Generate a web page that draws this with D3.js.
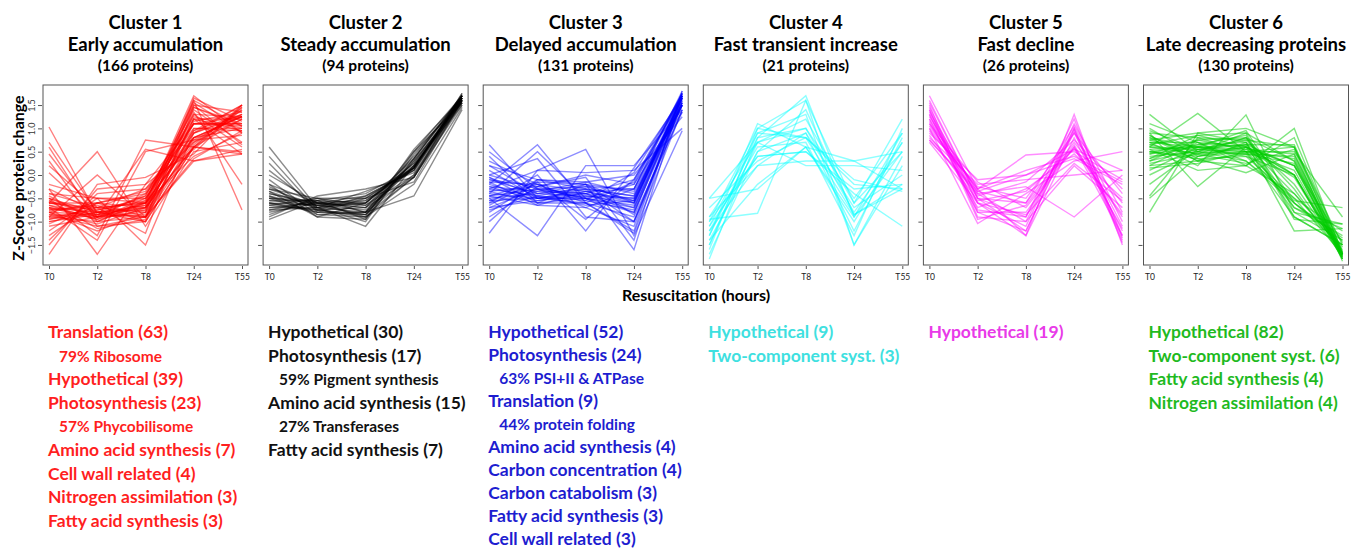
<!DOCTYPE html>
<html>
<head>
<meta charset="utf-8">
<script src="https://cdn.jsdelivr.net/npm/d3@7"></script>
<style>
  body { margin: 0; background: #fff; }
  svg { display: block; }
  text { font-family: Lato, "Open Sans", sans-serif; }
</style>
</head>
<body>
<div id="chart"></div>
<script>
// time points on the x axis
var timeLabels = ['T0', 'T2', 'T8', 'T24', 'T55'];
var yTicks = [-1.5, -1.0, -0.5, 0.0, 0.5, 1.0, 1.5];

var clusterNames = ['Cluster 1', 'Cluster 2', 'Cluster 3', 'Cluster 4', 'Cluster 5', 'Cluster 6'];
var clusterTitles = ['Early accumulation', 'Steady accumulation', 'Delayed accumulation',
  'Fast transient increase', 'Fast decline', 'Late decreasing proteins'];
var clusterCounts = [166, 94, 131, 21, 26, 130];

// z-score profiles (T0, T2, T8, T24, T55)
var cluster1 = [
  [1.03, -0.85, -0.9, 0.3, 0.45], [0.7, -0.8, -1.0, 0.6, 0.5], [0.6, -1.0, -0.9, 0.35, 0.95],
  [0.45, -0.9, -0.7, 1.35, -0.2], [0.3, -1.1, -1.0, 0.6, 1.2], [0.2, -0.7, -0.6, 1.6, -0.75],
  [0.05, -0.9, -0.8, 1.2, 0.45], [-0.2, -0.5, -0.6, 0.4, 0.9], [-0.3, -0.8, -0.9, 1.0, 1.0],
  [-0.4, -0.7, -0.8, 0.7, 1.2], [-0.5, -0.8, -0.7, 0.6, 1.4], [-0.55, -0.9, -0.6, 0.8, 1.25],
  [-0.6, -0.75, -0.55, 1.3, 0.6], [-0.65, -0.85, -0.7, 0.9, 1.3], [-0.7, -0.8, -0.65, 1.5, 0.65],
  [-0.7, -0.95, -0.5, 1.1, 1.05], [-0.75, -0.7, -0.6, 0.75, 1.3], [-0.8, -0.85, -0.45, 1.4, 0.7],
  [-0.8, -0.6, -0.7, 0.6, 1.5], [-0.85, -0.9, -0.4, 1.2, 0.95], [-0.9, -0.75, -0.5, 0.9, 1.25],
  [-0.9, -1.0, -0.55, 1.55, 0.9], [-0.95, -0.7, -0.3, 1.0, 0.95], [-1.0, -0.8, -0.45, 1.25, 1.0],
  [-1.05, -0.6, -0.4, 0.8, 1.25], [-1.1, -0.9, -0.6, 1.7, 0.9], [-1.2, -0.5, -0.5, 1.1, 1.1],
  [-1.3, -0.6, -0.35, 0.95, 1.3], [-1.4, -0.4, -0.3, 0.7, 1.4], [-1.5, -0.3, -0.2, 0.55, 1.45],
  [-1.7, -0.2, -0.05, 0.45, 1.5], [-0.6, 0.5, -1.1, 0.5, 0.7], [-0.9, 0.0, -0.9, 0.8, 1.0],
  [-0.3, -1.7, -0.2, 1.1, 1.1], [-0.5, -1.3, 0.75, 0.6, 0.45], [-0.7, -1.4, 0.5, 0.75, 0.85],
  [-0.5, -0.9, 0.55, 0.3, 0.55], [-0.4, -0.5, -1.5, 0.9, 1.5], [-0.6, -0.7, -1.25, 1.45, 1.1],
  [-0.8, -1.2, -0.8, 1.65, 1.15], [-0.75, -0.65, -1.0, 1.2, 1.2], [-0.85, -1.1, -0.9, 1.5, 1.35],
  [-0.65, -0.95, -0.75, 1.1, 1.25], [-0.7, -0.9, -0.85, 0.95, 1.5], [-0.8, -1.05, -0.7, 1.3, 1.25],
  [-0.55, -1.15, -0.95, 1.6, 1.05], [-1.0, -0.85, -0.65, 1.45, 1.05], [-0.45, -1.0, -0.6, 0.8, 1.25],
  [-0.95, -0.8, -0.75, 1.15, 1.35], [-0.6, -0.6, -0.9, 0.65, 1.45]
];
var cluster2 = [
  [0.6, -0.7, -0.8, -0.45, 1.4], [0.4, -0.75, -0.9, -0.2, 1.45], [0.25, -0.8, -0.85, -0.05, 1.5],
  [0.1, -0.7, -1.1, 0.2, 1.5], [0.0, -0.6, -0.9, -0.05, 1.55], [-0.1, -0.85, -0.8, 0.2, 1.55],
  [-0.2, -0.6, -0.7, -0.05, 1.6], [-0.25, -0.75, -0.85, 0.3, 1.55], [-0.3, -0.5, -0.8, 0.0, 1.6],
  [-0.35, -0.9, -0.6, 0.25, 1.6], [-0.4, -0.65, -0.75, 0.15, 1.65], [-0.45, -0.7, -0.55, 0.1, 1.6],
  [-0.5, -0.6, -0.7, 0.2, 1.6], [-0.5, -0.8, -0.5, 0.15, 1.65], [-0.55, -0.55, -0.8, 0.3, 1.6],
  [-0.6, -0.65, -0.6, 0.2, 1.65], [-0.6, -0.75, -0.45, 0.1, 1.7], [-0.65, -0.5, -0.65, 0.15, 1.65],
  [-0.7, -0.6, -0.55, 0.15, 1.7], [-0.7, -0.7, -0.35, 0.05, 1.7], [-0.75, -0.55, -0.6, 0.25, 1.65],
  [-0.8, -0.6, -0.45, 0.1, 1.75], [-0.85, -0.5, -0.5, 0.15, 1.7], [-0.9, -0.45, -0.3, -0.05, 1.7],
  [-0.95, -0.55, -0.4, 0.15, 1.75], [-0.45, -0.85, -0.9, 0.55, 1.65], [-0.35, -0.7, -1.0, 0.45, 1.6],
  [-0.65, -0.75, -0.7, 0.4, 1.7], [-0.55, -0.65, -0.85, 0.35, 1.7], [-0.75, -0.7, -0.6, 0.35, 1.7],
  [-0.2, -0.9, -0.95, 0.5, 1.55], [-0.5, -0.55, -0.95, 0.35, 1.65], [-0.4, -0.6, -0.65, 0.0, 1.65],
  [-0.6, -0.8, -0.8, 0.5, 1.7], [-0.3, -0.65, -0.5, -0.15, 1.6]
];
var cluster3 = [
  [0.65, -0.5, -0.6, -0.9, 1.35], [0.5, -0.3, -0.7, -1.1, 1.6], [0.4, -0.6, -0.5, -0.8, 1.5],
  [0.3, -0.2, -0.6, -1.2, 1.7], [0.2, -0.4, -0.3, -1.0, 1.5], [0.1, -0.5, -0.4, -0.8, 1.6],
  [0.0, -0.3, -0.5, -0.7, 1.5], [-0.05, -0.6, -0.2, -0.85, 1.7], [-0.1, -0.4, -0.45, -0.6, 1.55],
  [-0.15, -0.2, -0.55, -0.75, 1.65], [-0.2, -0.5, -0.35, -0.6, 1.65], [-0.25, -0.35, -0.4, -0.7, 1.7],
  [-0.3, -0.45, -0.25, -0.55, 1.55], [-0.35, -0.25, -0.5, -0.65, 1.75], [-0.4, -0.5, -0.3, -0.45, 1.65],
  [-0.45, -0.3, -0.4, -0.5, 1.65], [-0.5, -0.4, -0.2, -0.6, 1.7], [-0.55, -0.2, -0.35, -0.55, 1.65],
  [-0.6, -0.35, -0.15, -0.4, 1.5], [-0.65, -0.1, -0.3, -0.45, 1.5], [-0.7, -0.3, -0.25, -0.3, 1.55],
  [-0.8, -0.15, -0.2, -0.35, 1.5], [-0.9, -0.25, 0.0, -0.2, 1.35], [-1.0, -0.1, -0.15, 0.0, 1.25],
  [-1.25, 0.1, 0.05, 0.1, 1.0], [-0.2, 0.65, -0.6, -1.25, 1.4], [-0.4, 0.5, -0.5, -1.0, 1.4],
  [0.0, 0.35, -0.9, -1.0, 1.55], [-0.5, -1.3, 0.2, 0.2, 1.4], [-0.3, 0.1, 0.55, -1.3, 0.95],
  [-0.6, 0.0, -1.2, 0.15, 1.65], [-0.45, -0.15, -0.95, -0.1, 1.65], [-0.15, -0.65, -0.7, -0.3, 1.8],
  [-0.35, -0.6, -0.6, -0.15, 1.7], [0.2, -0.1, -0.2, -1.6, 1.7], [-0.1, -0.25, -0.05, -1.4, 1.8],
  [-0.55, -0.5, -0.5, -0.2, 1.75], [-0.25, -0.55, -0.45, -0.5, 1.75], [-0.7, -0.55, -0.4, -0.1, 1.75],
  [-0.45, -0.65, -0.35, -0.3, 1.75], [-0.05, -0.45, -0.65, -0.55, 1.7], [-0.75, -0.45, -0.55, 0.05, 1.7]
];
var cluster4 = [
  [-1.8, 0.8, 1.7, -0.9, 0.9], [-1.6, 1.0, 1.6, -0.6, 1.2], [-1.5, 0.9, 1.3, -1.5, 0.4],
  [-1.5, 0.7, 1.0, -0.8, 0.7], [-1.4, 0.5, 0.9, -1.2, 0.8], [-1.3, 1.1, 0.6, -0.9, 0.5],
  [-1.3, 0.8, 1.0, -0.5, 0.9], [-1.2, 0.6, 0.7, -1.3, 1.0], [-1.1, 0.4, 0.5, -0.3, -0.2],
  [-1.0, 1.0, 0.8, -0.2, -0.3], [-0.95, -0.82, 1.6, -1.5, 0.2], [-0.9, 0.2, 0.9, -0.7, 0.0],
  [-1.0, 0.4, 0.5, -0.4, -1.1], [-0.5, -0.3, 0.6, 0.3, -0.3], [-0.5, 0.7, 1.2, -0.6, 0.5],
  [-0.9, 0.7, 0.2, 0.2, 0.1], [-1.2, 0.2, 0.3, 0.3, 0.5], [-1.7, 0.5, 1.4, -0.85, -0.2],
  [-1.4, -0.2, 0.6, -1.0, 0.7], [-0.7, 0.3, 0.8, -0.1, -0.35], [-1.1, 0.9, 0.8, -0.85, -0.3]
];
var cluster5 = [
  [1.7, -0.3, -1.3, 1.3, -1.5], [1.6, -0.5, -1.2, 1.0, -1.3], [1.4, -0.75, -0.9, 0.9, -1.1],
  [1.35, -0.4, -1.0, 1.0, -1.4], [1.3, -0.6, -1.3, 0.8, -1.2], [1.2, -0.8, -0.8, 0.6, -0.9],
  [1.15, -0.7, -0.3, 0.45, -0.5], [1.1, -0.5, -0.6, 1.05, -1.0], [1.0, -1.04, -0.4, 0.3, 0.5],
  [1.0, -0.3, 0.43, 0.5, -0.1], [0.9, -0.1, 0.0, 0.35, -0.2], [0.8, -0.2, -0.1, 0.0, 0.1],
  [0.75, -0.4, -0.25, -0.9, 0.0], [1.45, -0.6, -1.1, 1.1, -0.8], [1.25, -0.35, -0.6, 0.7, -0.6],
  [0.95, -0.25, -0.5, 0.9, -0.4], [1.5, -0.9, -1.0, 0.2, -0.7], [1.1, -0.15, -0.7, 0.6, -1.3],
  [0.85, -0.55, -0.35, 0.55, -0.85], [1.3, -0.8, -1.2, 0.95, -1.45], [1.2, -0.45, -0.15, 0.75, -0.3],
  [0.7, -0.6, -0.85, 0.25, -0.55], [1.05, -0.3, 0.1, 0.4, -0.15], [1.4, -0.95, -0.65, 0.65, -1.15],
  [0.75, -0.35, 0.0, 0.55, 0.1], [1.55, -0.5, -0.9, 1.2, -1.35]
];
var cluster6 = [
  [1.3, 0.5, 0.3, -0.6, -1.5], [1.1, 0.7, 0.2, -0.4, -1.6], [1.0, 0.4, 0.6, -0.7, -1.3],
  [0.9, 0.8, 0.5, -0.5, -1.7], [0.85, 0.3, 0.7, -0.8, -1.05], [0.8, 0.6, 0.4, 0.0, -1.8],
  [0.75, 0.5, 0.8, -0.3, -1.75], [0.7, 0.7, 0.3, -0.5, -1.2], [0.65, 0.45, 0.6, 0.0, -1.7],
  [0.6, 0.55, 0.75, -0.2, -1.7], [0.55, 0.6, 0.5, 0.1, -1.75], [0.5, 0.4, 0.65, 0.2, -1.75],
  [0.45, 0.75, 0.55, -0.05, -1.7], [0.4, 0.5, 0.45, 0.4, -1.75], [0.35, 0.65, 0.7, 0.0, -1.7],
  [0.3, 0.55, 0.5, 0.35, -1.7], [0.25, 0.45, 0.8, 0.3, -1.8], [0.2, 0.7, 0.6, 0.2, -1.7],
  [0.1, 0.6, 0.55, 0.45, -1.7], [0.0, 0.5, 0.9, 0.3, -1.7], [-0.2, 0.55, 0.65, 0.65, -1.65],
  [-0.45, 0.8, 0.75, 0.6, -1.7], [-0.8, 0.9, 1.0, 0.6, -1.7], [0.6, 1.32, 0.5, -0.9, -1.5],
  [0.7, 0.2, 1.29, -0.8, -1.4], [0.9, -0.25, 0.6, 0.2, -1.45], [0.55, 0.1, 0.2, 0.8, -1.65],
  [0.2, 0.3, 0.2, 1.0, -1.7], [0.85, 0.35, 0.05, 0.45, -1.7], [0.65, 0.85, 0.9, -0.9, -1.5],
  [0.5, 0.65, 0.85, -0.95, -1.05], [0.75, 0.9, 0.7, -1.2, -1.15], [0.45, 0.6, 0.95, -0.6, -1.4],
  [0.3, 0.75, 0.8, -0.7, -1.15], [0.95, 0.55, 0.45, -0.6, -1.35], [0.5, 0.35, 0.4, -0.55, -0.7],
  [0.6, 0.45, 0.25, 0.55, -1.85], [0.35, 0.85, 0.6, 0.0, -1.8], [0.8, 0.3, 0.45, 0.25, -1.8],
  [0.7, 0.6, 0.65, -0.4, -1.55], [-0.5, 0.4, 0.5, 0.5, -0.9], [0.15, 0.25, 0.5, 0.6, -1.5]
];
var clusterData = [cluster1, cluster2, cluster3, cluster4, cluster5, cluster6];

// functional categories under each panel (second field marks a percentage sub line)
var categories1 = [['Translation (63)', 0], ['79% Ribosome', 1], ['Hypothetical (39)', 0],
  ['Photosynthesis (23)', 0], ['57% Phycobilisome', 1], ['Amino acid synthesis (7)', 0],
  ['Cell wall related (4)', 0], ['Nitrogen assimilation (3)', 0], ['Fatty acid synthesis (3)', 0]];
var categories2 = [['Hypothetical (30)', 0], ['Photosynthesis (17)', 0], ['59% Pigment synthesis', 1],
  ['Amino acid synthesis (15)', 0], ['27% Transferases', 1], ['Fatty acid synthesis (7)', 0]];
var categories3 = [['Hypothetical (52)', 0], ['Photosynthesis (24)', 0], ['63% PSI+II & ATPase', 1],
  ['Translation (9)', 0], ['44% protein folding', 1], ['Amino acid synthesis (4)', 0],
  ['Carbon concentration (4)', 0], ['Carbon catabolism (3)', 0], ['Fatty acid synthesis (3)', 0],
  ['Cell wall related (3)', 0]];
var categories4 = [['Hypothetical (9)', 0], ['Two-component syst. (3)', 0]];
var categories5 = [['Hypothetical (19)', 0]];
var categories6 = [['Hypothetical (82)', 0], ['Two-component syst. (6)', 0],
  ['Fatty acid synthesis (4)', 0], ['Nitrogen assimilation (4)', 0]];
var categoryData = [categories1, categories2, categories3, categories4, categories5, categories6];

var lineColors = ['#ff0000', '#000000', '#0000ff', '#00ffff', '#ff00ff', '#00cd00'];
var textColors = ['#ff1f1f', '#111111', '#1d1dd0', '#3ee0e0', '#e83ae8', '#1fba1f'];
var lineOpacity = [0.5, 0.45, 0.45, 0.45, 0.45, 0.5];
// the third list is packed a little tighter so it fits the page
var listSpacing = [23.6, 23.6, 23.0, 23.6, 23.6, 23.6];

var width = 1359, height = 548;
var panel = {left: 43, top: 85, width: 205, height: 180, step: 220.1};

var svg = d3.select('#chart').append('svg')
  .attr('width', width)
  .attr('height', height);

var x = d3.scalePoint().domain(timeLabels).range([6, panel.width - 6]);
var y = d3.scaleLinear().domain([-1.93, 1.93]).range([panel.height, 0]);

var line = d3.line()
  .x(function(d, i) { return x(timeLabels[i]); })
  .y(function(d) { return y(d); });

clusterData.forEach(function(rows, k) {
  var px = panel.left + k * panel.step;
  var cx = px + panel.width / 2;
  var g = svg.append('g').attr('transform', 'translate(' + px + ',' + panel.top + ')');

  // titles
  svg.append('text').attr('x', cx).attr('y', 29).attr('text-anchor', 'middle')
    .attr('font-size', 18.5).attr('font-weight', 700).text(clusterNames[k]);
  svg.append('text').attr('x', cx).attr('y', 51).attr('text-anchor', 'middle')
    .attr('font-size', 18.5).attr('font-weight', 700).text(clusterTitles[k]);
  svg.append('text').attr('x', cx).attr('y', 71).attr('text-anchor', 'middle')
    .attr('font-size', 15.5).attr('font-weight', 700).text('(' + clusterCounts[k] + ' proteins)');

  g.selectAll('path.profile')
    .data(rows)
    .enter()
    .append('path')
    .attr('class', 'profile')
    .attr('d', line)
    .attr('fill', 'none')
    .attr('stroke', lineColors[k])
    .attr('stroke-opacity', lineOpacity[k])
    .attr('stroke-width', 1.4);

  // frame
  g.append('rect')
    .attr('x', 0).attr('y', 0)
    .attr('width', panel.width).attr('height', panel.height)
    .attr('fill', 'none').attr('stroke', '#555').attr('stroke-width', 1);

  var yAxis = g.append('g')
    .attr('transform', 'translate(-1,0)')
    .call(d3.axisLeft(y).tickValues(yTicks).tickSize(4)
      .tickFormat(k === 0 ? d3.format('.1f') : ''));
  yAxis.select('.domain').remove();
  yAxis.selectAll('line').attr('stroke', '#555');
  // labels turned to read bottom to top, as in the original
  yAxis.selectAll('text')
    .attr('font-size', 9)
    .attr('fill', '#333')
    .attr('transform', 'rotate(-90)')
    .attr('x', 0).attr('y', -7).attr('dy', 0)
    .attr('text-anchor', 'middle');

  var xAxis = g.append('g')
    .attr('transform', 'translate(0,' + (panel.height + 1) + ')')
    .call(d3.axisBottom(x).tickSize(3));
  xAxis.select('.domain').remove();
  xAxis.selectAll('line').attr('stroke', '#555');
  xAxis.selectAll('text').attr('font-size', 8.5).attr('fill', '#222').attr('dy', '0.9em');

  // category list
  svg.append('g').selectAll('text')
    .data(categoryData[k])
    .enter()
    .append('text')
    .attr('x', function(d) { return px + 5 + (d[1] ? 11 : 0); })
    .attr('y', function(d, i) { return 338 + i * listSpacing[k]; })
    .attr('font-size', function(d) { return d[1] ? 15.5 : 17.5; })
    .attr('font-weight', 700)
    .attr('fill', textColors[k])
    .text(function(d) { return d[0]; });
});

svg.append('text')
  .attr('transform', 'translate(24,178) rotate(-90)')
  .attr('text-anchor', 'middle')
  .attr('font-size', 16).attr('font-weight', 700)
  .text('Z-Score protein change');

svg.append('text')
  .attr('x', 696).attr('y', 301)
  .attr('text-anchor', 'middle')
  .attr('font-size', 16).attr('font-weight', 700)
  .text('Resuscitation (hours)');
</script>
</body>
</html>
